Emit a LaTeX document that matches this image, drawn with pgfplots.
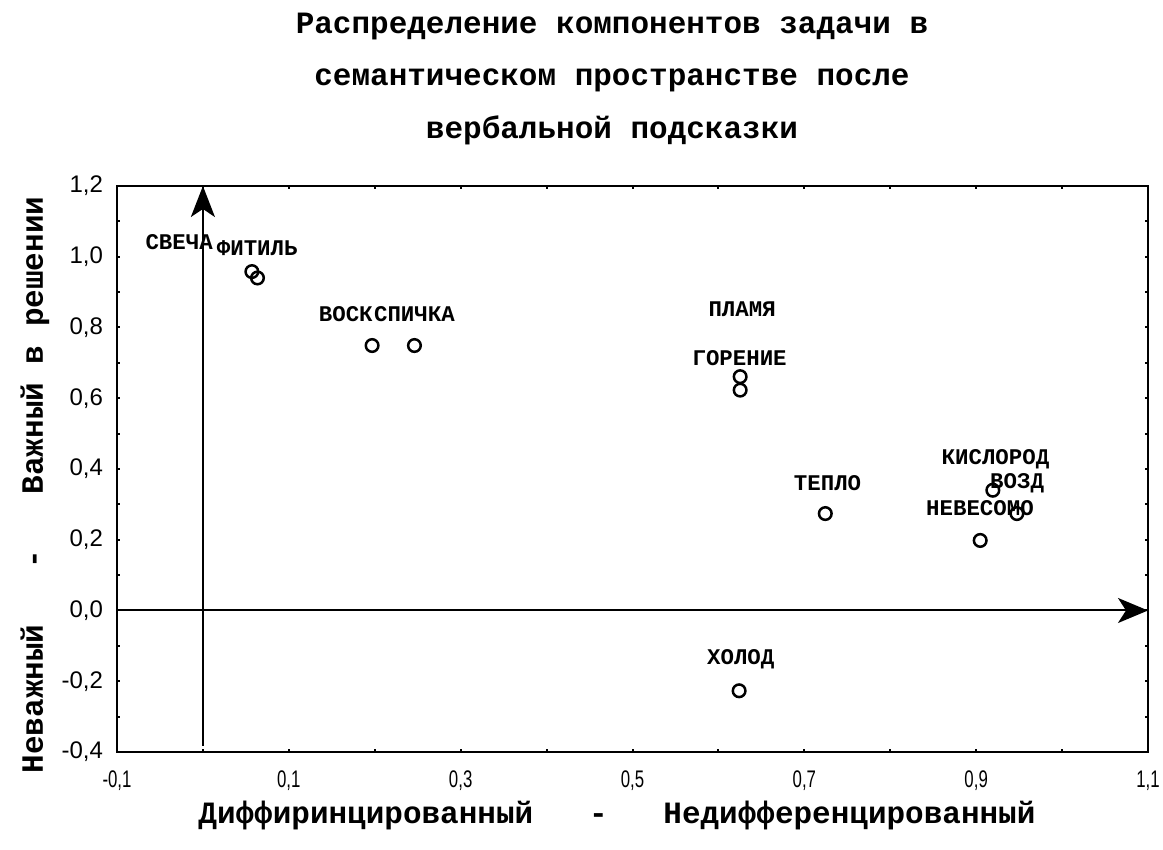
\documentclass[border=0pt]{standalone}
\usepackage{fontspec}
\setmainfont{Liberation Sans}
\newfontfamily\cour{Liberation Mono}
\newfontfamily\tickx{Liberation Sans}[FakeStretch=0.7]
\usepackage{pgfplots}
\usepackage{pgfplotstable}
\pgfplotsset{compat=1.18}
\usetikzlibrary{arrows.meta}

% Points (x, y)
\pgfplotstableread{
x y
0.0570 0.958
0.0635 0.940
0.1969 0.749
0.2462 0.749
0.6253 0.661
0.6253 0.623
0.7244 0.274
0.9194 0.340
0.9474 0.274
0.9047 0.198
0.6241 -0.227
}\pts

\newcommand\lbl{\cour\bfseries\fontsize{11.2}{12}\selectfont}
\newcommand\ttl{\cour\bfseries\fontsize{15.5}{16}\selectfont}

\begin{document}
\begin{tikzpicture}[x=0.5pt,y=0.5pt]
\path[use as bounding box] (0,0) rectangle (1163,850);
\begin{axis}[
  at={(58.5pt,49pt)}, anchor=south west,
  scale only axis, width=515.5pt, height=283pt,
  xmin=-0.1, xmax=1.1, ymin=-0.4, ymax=1.2,
  xtick={-0.1,0.1,0.3,0.5,0.7,0.9,1.1},
  minor xtick={0,0.2,0.4,0.6,0.8,1.0},
  ytick={-0.4,-0.2,0,0.2,0.4,0.6,0.8,1.0,1.2},
  minor ytick={-0.3,-0.1,0.1,0.3,0.5,0.7,0.9,1.1},
  tick align=inside,
  major tick length=1.6pt, minor tick length=1.6pt,
  tick style={line width=1pt, black},
  axis line style={line width=1.35pt},
  /pgf/number format/.cd, use comma, fixed, fixed zerofill, precision=1, assume math mode=true,
  /pgfplots/.cd,
  xticklabel style={font=\tickx\fontsize{12}{12}\selectfont, yshift=-6pt},
  yticklabel style={font=\fontsize{12}{12}\selectfont, xshift=-3.5pt},
  clip=false,
]
\addplot[line width=1pt, -{Stealth[length=15.5pt,width=12pt,inset=4pt]}] coordinates {(0,-0.382) (0,1.2)};
\addplot[line width=1pt, -{Stealth[length=15pt,width=12.5pt,inset=4pt]}] coordinates {(-0.1,0) (1.1,0)};
\addplot[only marks, mark=o, mark size=3.15pt, mark options={line width=1.25pt, black}] table {\pts};

\node[font=\lbl] at (axis cs:-0.0277,1.040) {СВЕЧА};
\node[font=\lbl] at (axis cs:0.0632,1.025) {ФИТИЛЬ};
\node[font=\lbl] at (axis cs:0.1663,0.8385) {ВОСК};
\node[font=\lbl] at (axis cs:0.2462,0.8385) {СПИЧКА};
\node[font=\lbl] at (axis cs:0.6276,0.852) {ПЛАМЯ};
\node[font=\lbl] at (axis cs:0.6247,0.713) {ГОРЕНИЕ};
\node[font=\lbl] at (axis cs:0.727,0.361) {ТЕПЛО};
\node[font=\lbl] at (axis cs:0.9225,0.427) {КИСЛОРОД};
\node[font=\lbl] at (axis cs:0.9476,0.359) {ВОЗД};
\node[font=\lbl] at (axis cs:0.9044,0.288) {НЕВЕСОМО};
\node[font=\lbl] at (axis cs:0.626,-0.137) {ХОЛОД};
\end{axis}
\node[font=\ttl] at (612,823) {Распределение компонентов задачи в};
\node[font=\ttl] at (612,770) {семантическом пространстве после};
\node[font=\ttl] at (612,720) {вербальной подсказки};
\node[font=\ttl] at (617,35) {Диффиринцированный~~~-~~~Недифференцированный};
\node[font=\ttl, rotate=90] at (35,365) {Неважный~~~-~~~Важный в решении};
\end{tikzpicture}
\end{document}
